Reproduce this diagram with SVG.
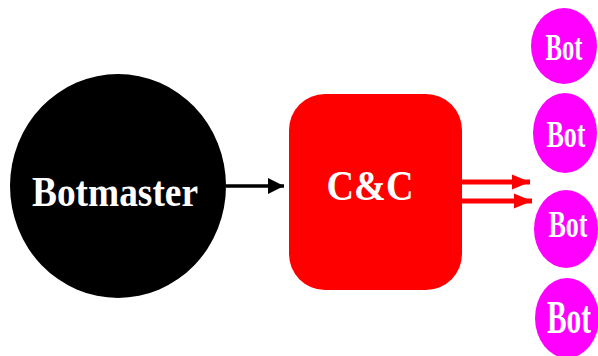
<svg xmlns="http://www.w3.org/2000/svg" width="598" height="356" viewBox="0 0 598 356">
<style>
.lbl{font-family:"Liberation Serif","Times New Roman",serif;font-weight:bold;fill:#fff;text-anchor:middle;}
.bot{fill:#ff00ff;}
</style>
<defs>
<marker id="ab" markerUnits="userSpaceOnUse" markerWidth="18" markerHeight="18" refX="16" refY="9" orient="auto"><path d="M0,1 L16,9 L0,17 Z" fill="#000"/></marker>
<marker id="ar" markerUnits="userSpaceOnUse" markerWidth="20" markerHeight="18" refX="18" refY="9" orient="auto"><path d="M0,1.5 L18,9 L0,16.5 Z" fill="#ff0000"/></marker>
</defs>
<rect width="598" height="356" fill="#fff"/>
<g id="connectors">
<line x1="226" y1="186" x2="284" y2="186" stroke="#000" stroke-width="3.5" marker-end="url(#ab)"/>
<line x1="460" y1="182" x2="530" y2="182" stroke="#ff0000" stroke-width="5" marker-end="url(#ar)"/>
<line x1="460" y1="201" x2="532" y2="201" stroke="#ff0000" stroke-width="5" marker-end="url(#ar)"/>
</g>
<g id="botmaster">
<ellipse cx="118" cy="186" rx="108" ry="112" fill="#000"/>
<text class="lbl" x="115" y="206" font-size="42" textLength="166" lengthAdjust="spacingAndGlyphs">Botmaster</text>
</g>
<g id="cc">
<rect x="289" y="94" width="173" height="196" rx="36" ry="36" fill="#ff0000"/>
<text class="lbl" x="370" y="200" font-size="42" textLength="87" lengthAdjust="spacingAndGlyphs">C&amp;C</text>
</g>
<g id="bot1">
<ellipse class="bot" cx="564" cy="46" rx="33" ry="38"/>
<text class="lbl" x="564" y="60" font-size="38" textLength="37" lengthAdjust="spacingAndGlyphs">Bot</text>
</g>
<g id="bot2">
<ellipse class="bot" cx="565" cy="133" rx="32" ry="40"/>
<text class="lbl" x="566" y="147" font-size="38" textLength="39" lengthAdjust="spacingAndGlyphs">Bot</text>
</g>
<g id="bot3">
<ellipse class="bot" cx="566" cy="229" rx="32" ry="39"/>
<text class="lbl" x="568" y="237" font-size="38" textLength="39" lengthAdjust="spacingAndGlyphs">Bot</text>
</g>
<g id="bot4">
<ellipse class="bot" cx="567" cy="318" rx="32" ry="40"/>
<text class="lbl" x="569" y="333" font-size="46" textLength="44" lengthAdjust="spacingAndGlyphs">Bot</text>
</g>
</svg>
